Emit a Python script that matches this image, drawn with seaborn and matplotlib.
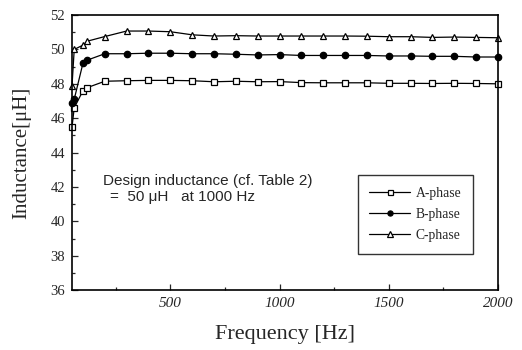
import pandas as pd
import matplotlib
matplotlib.use("Agg")
import matplotlib.pyplot as plt
import seaborn as sns
from matplotlib.ticker import MultipleLocator

freq = [50, 60, 100, 120, 200, 300, 400, 500, 600, 700, 800, 900, 1000,
        1100, 1200, 1300, 1400, 1500, 1600, 1700, 1800, 1900, 2000]

a_phase = [45.5, 46.6, 47.6, 47.78, 48.15, 48.18, 48.2, 48.2, 48.18, 48.12, 48.15, 48.12,
           48.13, 48.07, 48.06, 48.06, 48.06, 48.03, 48.03, 48.02, 48.03, 48.02, 48.0]
b_phase = [46.9, 47.1, 49.2, 49.38, 49.75, 49.75, 49.78, 49.78, 49.75, 49.75, 49.72, 49.68,
           49.7, 49.65, 49.65, 49.65, 49.65, 49.62, 49.62, 49.6, 49.6, 49.56, 49.56]
c_phase = [47.9, 50.0, 50.25, 50.48, 50.75, 51.07, 51.07, 51.03, 50.85, 50.78, 50.8, 50.78,
           50.78, 50.78, 50.78, 50.78, 50.77, 50.74, 50.74, 50.7, 50.72, 50.7, 50.68]

phases = ["A-phase", "B-phase", "C-phase"]
markers = ["s", "o", "^"]
faces = ["white", "black", "white"]
msizes = [4.5, 4.6, 5]

x_ticks = [500, 1000, 1500, 2000]
y_ticks = [36, 38, 40, 42, 44, 46, 48, 50, 52]


def main():
    sns.set_style("ticks")
    plt.rcParams["font.family"] = ["Liberation Serif", "DejaVu Serif"]

    df = pd.DataFrame({"Frequency": freq, "A-phase": a_phase,
                       "B-phase": b_phase, "C-phase": c_phase})

    fig = plt.figure(figsize=(5.22, 3.5), dpi=100)
    ax = fig.add_axes([0.138, 0.171, 0.816, 0.786])

    for name, mk, fc, ms in zip(phases, markers, faces, msizes):
        sns.lineplot(data=df, x="Frequency", y=name, ax=ax, color="black",
                     linewidth=0.9, marker=mk, markerfacecolor=fc,
                     markeredgecolor="black", markeredgewidth=0.9,
                     markersize=ms, label=name, clip_on=False)

    ax.set_xlim(50, 2000)
    ax.set_ylim(36, 52)
    ax.set_xticks(x_ticks)
    ax.set_yticks(y_ticks)
    ax.xaxis.set_minor_locator(MultipleLocator(250))
    ax.yaxis.set_minor_locator(MultipleLocator(1))
    ax.tick_params(which="both", direction="in", top=False, right=False, width=0.9)
    ax.tick_params(which="major", length=4)
    ax.tick_params(which="minor", length=2)
    ax.tick_params(axis="y", labelsize=10.5, pad=5)
    ax.tick_params(axis="x", labelsize=11, pad=5)
    for lab in ax.get_xticklabels():
        lab.set_fontstyle("italic")
    for s in ax.spines.values():
        s.set_linewidth(1.2)
        s.set_color("black")

    ax.set_xlabel("Frequency [Hz]", fontsize=16)
    ax.set_ylabel("Inductance[\u03bcH]", fontsize=15)
    ax.xaxis.set_label_coords(0.5, -0.125)
    ax.yaxis.set_label_coords(-0.095, 0.5)

    ax.text(0.072, 0.395, "Design inductance (cf. Table 2)", transform=ax.transAxes,
            fontsize=11, family=["Liberation Sans", "DejaVu Sans"], va="center")
    ax.text(0.09, 0.34, "=  50 \u03bcH   at 1000 Hz", transform=ax.transAxes,
            fontsize=11, family=["Liberation Sans", "DejaVu Sans"], va="center")

    leg = ax.legend(loc="upper left", bbox_to_anchor=(0.671, 0.418), fontsize=9.8,
                    frameon=True, fancybox=False, edgecolor="black", handlelength=3,
                    borderpad=0.85, labelspacing=0.6, handletextpad=0.4,
                    borderaxespad=0, markerscale=0.8)
    leg.get_frame().set_linewidth(1.0)

    fig.savefig("out.png", dpi=100)


if __name__ == "__main__":
    main()
